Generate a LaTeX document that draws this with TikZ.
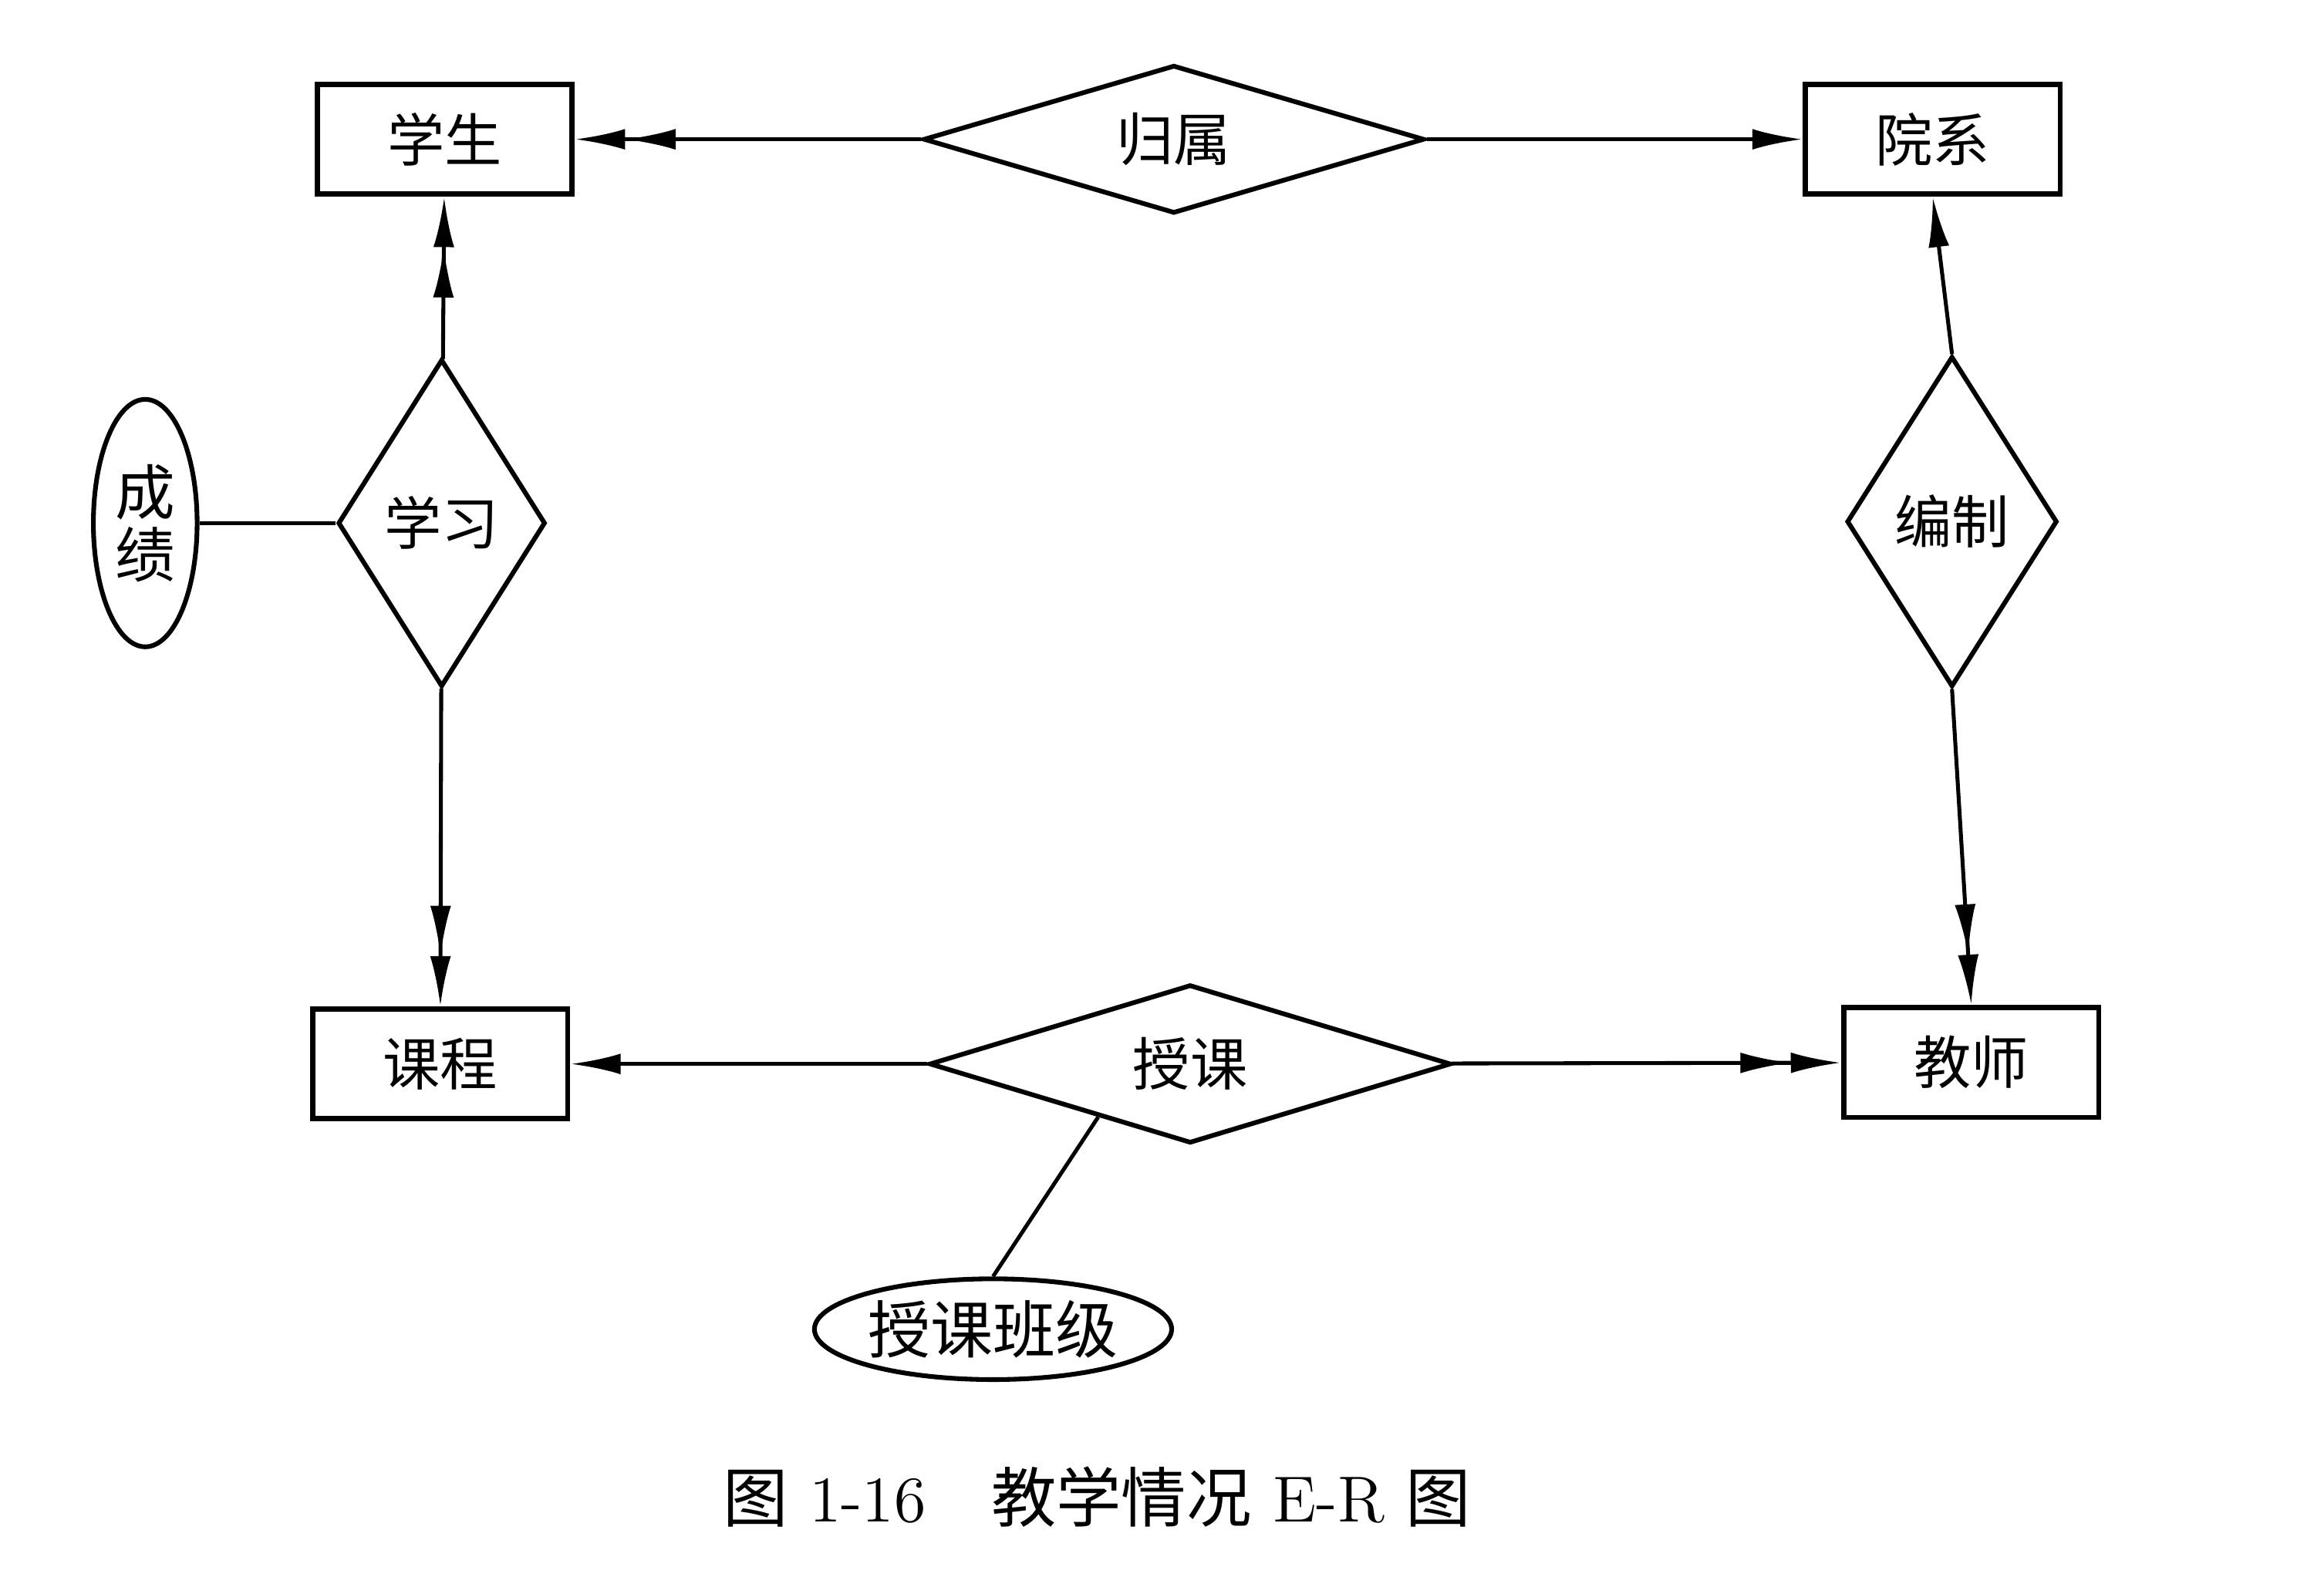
\documentclass[tikz,border=0pt]{standalone}
\usepackage{fontspec}
\newfontfamily\cjk{Noto Sans CJK SC}
\usetikzlibrary{arrows.meta,shapes.geometric}

\tikzset{
  entity/.style={draw, line width=1pt, minimum width=1.72cm, minimum height=0.74cm, font=\cjk\fontsize{11}{13}\selectfont},
  relation/.style={draw, diamond, line width=0.9pt, inner sep=0pt, font=\cjk\fontsize{11}{13}\selectfont},
  attrib/.style={draw, ellipse, line width=0.9pt, inner sep=0pt, font=\cjk\fontsize{11.5}{13}\selectfont},
  one/.style={line width=0.75pt, -{Latex[length=3.4mm,width=1.4mm]}},
  many/.style={line width=0.75pt, -{Latex[length=3.4mm,width=1.4mm] Latex[length=3.4mm,width=1.4mm]}},
}

\begin{document}
\begin{tikzpicture}
  \useasboundingbox (0,0) rectangle (15.68,10.64);

  \node[entity] (xs) at (3.00,9.70) {学生};
  \node[entity] (yx) at (13.04,9.70) {院系};
  \node[entity] (kc) at (2.97,3.46) {课程};
  \node[entity] (js) at (13.30,3.47) {教师};

  \node[relation, shape aspect=3.4, minimum width=3.38cm, minimum height=1.0cm] (gs) at (7.92,9.70) {归属};
  \node[relation, minimum width=1.40cm, minimum height=2.21cm] (xx) at (2.98,7.11) {学习};
  \node[relation, minimum width=1.42cm, minimum height=2.23cm] (bz) at (13.17,7.12) {编制};
  \node[relation, shape aspect=3.3, minimum width=3.52cm, minimum height=1.07cm] (sk) at (8.03,3.46) {授课};

  \node[attrib, minimum width=0.70cm, minimum height=1.67cm, align=center] (cj) at (0.98,7.11) {成\\[-1pt]绩};
  \node[attrib, minimum width=2.41cm, minimum height=0.68cm, font=\cjk\fontsize{12}{14}\selectfont] (bj) at (6.70,1.67) {授课班级};

  \node (cap) at (7.40,0.54) {\fontsize{12.5}{15}\selectfont{\cjk 图} 1-16\quad{\cjk 教学情况} E-R {\cjk 图}};

  \draw[many] (gs) -- (xs);
  \draw[one] (gs) -- (yx);
  \draw[many] (xx) -- (xs);
  \draw[many] (xx) -- (kc);
  \draw[line width=0.75pt] (xx) -- (cj);
  \draw[one] (bz.north) -- (yx.south);
  \draw[many] (bz.south) -- (js.north);
  \draw[one] (sk) -- (kc);
  \draw[many] (sk) -- (js);
  \draw[line width=0.75pt] (sk.210) -- (bj.north);
\end{tikzpicture}
\end{document}
